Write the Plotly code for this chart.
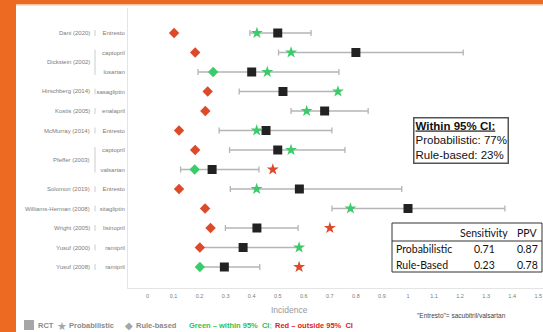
import plotly.graph_objects as go

studies = ["Dani (2020)", "Dickstein (2002)", "Dickstein (2002)", "Hirschberg (2014)", "Kostis (2005)",
           "McMurray (2014)", "Pfeffer (2003)", "Pfeffer (2003)", "Solomon (2019)", "Williams-Herman (2008)",
           "Wright (2005)", "Yusuf (2000)", "Yusuf (2008)"]
drugs = ["Entresto", "captopril", "losartan", "sasagliptin", "enalapril", "Entresto", "captopril",
         "valsartan", "Entresto", "sitagliptin", "lisinopril", "ramipril", "ramipril"]
rct = [0.50, 0.80, 0.40, 0.52, 0.68, 0.455, 0.50, 0.248, 0.583, 1.00, 0.42, 0.367, 0.295]
ci_low = [0.393, 0.503, 0.194, 0.352, 0.551, 0.275, 0.315, 0.127, 0.318, 0.708, 0.299, 0.205, 0.195]
ci_high = [0.628, 1.212, 0.735, 0.731, 0.847, 0.708, 0.758, 0.428, 0.976, 1.372, 0.578, 0.582, 0.431]
prob = [0.42, 0.551, 0.46, 0.731, 0.611, 0.419, 0.551, 0.481, 0.419, 0.779, 0.70, 0.582, 0.582]
rule = [0.102, 0.183, 0.252, 0.231, 0.222, 0.121, 0.183, 0.181, 0.121, 0.221, 0.242, 0.201, 0.201]
x_ticks = [0, 0.1, 0.2, 0.3, 0.4, 0.5, 0.6, 0.7, 0.8, 0.9, 1, 1.1, 1.2, 1.3, 1.4, 1.5]

GREEN = "#3ccb6b"
RED = "#dc4a2a"
GRAY_TXT = "#7c7c7c"
W, H = 543, 332

rows = list(range(len(drugs)))


def inside(v, lo, hi):
    return lo <= v <= hi


prob_col = [GREEN if inside(p, lo, hi) else RED for p, lo, hi in zip(prob, ci_low, ci_high)]
rule_col = [GREEN if inside(r, lo, hi) else RED for r, lo, hi in zip(rule, ci_low, ci_high)]

fig = go.Figure()
fig.add_trace(go.Scatter(
    x=rct, y=rows, mode="markers",
    marker=dict(symbol="square", size=9, color="#222222"),
    error_x=dict(type="data", symmetric=False,
                 array=[h - r for h, r in zip(ci_high, rct)],
                 arrayminus=[r - l for r, l in zip(rct, ci_low)],
                 color="#b5b5b5", thickness=1.3, width=3),
    showlegend=False))
fig.add_trace(go.Scatter(
    x=prob, y=rows, mode="markers",
    marker=dict(symbol="star", size=9, color=prob_col), showlegend=False))
fig.add_trace(go.Scatter(
    x=rule, y=rows, mode="markers",
    marker=dict(symbol="diamond", size=8, color=rule_col), showlegend=False))

# axes geometry (pixels)
px_left, px_right = 128, 543
px_top, px_bot = 8, 288
x0_px, x1_px = 147.5, 408.0
row0_px, row_step = 33.0, 19.5
scale = x1_px - x0_px
xr = [(px_left - x0_px) / scale, (px_right - x0_px) / scale]
yr = [(px_bot - row0_px) / row_step, (px_top - row0_px) / row_step]

fig.update_xaxes(domain=[px_left / W, px_right / W], range=xr, tickvals=x_ticks,
                 ticktext=[("%g" % t) for t in x_ticks], showgrid=False, zeroline=False,
                 showline=True, linecolor="#e4e4e4", linewidth=1, ticks="",
                 tickfont=dict(size=5.5, color=GRAY_TXT, family="Liberation Sans"),
                 ticklabelstandoff=2)
fig.update_yaxes(domain=[1 - px_bot / H, 1 - px_top / H], range=yr, tickvals=rows, ticktext=drugs,
                 showgrid=False, zeroline=False, showline=True, linecolor="#e4e4e4", linewidth=1,
                 ticks="", tickfont=dict(size=6, color=GRAY_TXT, family="Liberation Sans"),
                 ticklabelstandoff=1)

annotations = []
shapes = []
# study labels with group dividers
i = 0
while i < len(studies):
    j = i
    while j + 1 < len(studies) and studies[j + 1] == studies[i]:
        j += 1
    ymid = (i + j) / 2
    annotations.append(dict(x=92 / W, y=ymid, xref="paper", yref="y", text=studies[i],
                            showarrow=False, xanchor="right", yanchor="middle",
                            font=dict(size=6, color=GRAY_TXT, family="Liberation Sans")))
    shapes.append(dict(type="line", xref="paper", yref="y", x0=95 / W, x1=95 / W,
                       y0=i - 0.15, y1=j + 0.15, line=dict(color="#cccccc", width=1)))
    i = j + 1

# orange frame
shapes.append(dict(type="rect", xref="paper", yref="paper", x0=0, x1=16 / W, y0=0, y1=1,
                   fillcolor="#ec6a22", line=dict(width=0), layer="below"))
shapes.append(dict(type="rect", xref="paper", yref="paper", x0=0, x1=1, y0=1 - 4 / H, y1=1,
                   fillcolor="#ec6a22", line=dict(width=0), layer="below"))
shapes.append(dict(type="rect", xref="paper", yref="paper", x0=16 / W, x1=1, y0=1 - 5.5 / H, y1=1 - 4 / H,
                   fillcolor="#f6c3a3", line=dict(width=0), layer="below"))

# axis title
annotations.append(dict(x=289 / W, y=1 - 310 / H, xref="paper", yref="paper", text="Incidence",
                        showarrow=False, xanchor="center", yanchor="middle",
                        font=dict(size=8.5, color="#999999", family="Liberation Sans")))

# within CI box
annotations.append(dict(x=461 / W, y=1 - 141 / H, xref="paper", yref="paper",
                        text="<b><u>Within 95% CI:</u></b><br>Probabilistic: 77%<br>Rule-based: 23%",
                        showarrow=False, align="left", xanchor="center", yanchor="middle",
                        bordercolor="#555555", borderwidth=1.5, borderpad=1, bgcolor="white",
                        font=dict(size=11.5, color="#111111", family="Liberation Sans")))

# sensitivity table
tx0, tx1, ty0, ty1, tymid = 392, 542, 223, 272, 241
shapes.append(dict(type="rect", xref="paper", yref="paper", x0=tx0 / W, x1=tx1 / W,
                   y0=1 - ty1 / H, y1=1 - ty0 / H, line=dict(color="#333333", width=1), fillcolor="white"))
shapes.append(dict(type="line", xref="paper", yref="paper", x0=tx0 / W, x1=tx1 / W,
                   y0=1 - tymid / H, y1=1 - tymid / H, line=dict(color="#333333", width=1)))
tab_rows = [("", "Sensitivity", "PPV", 232.5), ("Probabilistic", "0.71", "0.87", 249),
            ("Rule-Based", "0.23", "0.78", 264.5)]
tfont = dict(size=10.5, color="#111111", family="Lato")
for name, s, p, yy in tab_rows:
    if name:
        annotations.append(dict(x=394 / W, y=1 - yy / H, xref="paper", yref="paper", text=name,
                                showarrow=False, xanchor="left", yanchor="middle", font=tfont))
    annotations.append(dict(x=484 / W, y=1 - yy / H, xref="paper", yref="paper", text=s,
                            showarrow=False, xanchor="center", yanchor="middle", font=tfont))
    annotations.append(dict(x=527 / W, y=1 - yy / H, xref="paper", yref="paper", text=p,
                            showarrow=False, xanchor="center", yanchor="middle", font=tfont))

# footnote
annotations.append(dict(x=461 / W, y=1 - 315 / H, xref="paper", yref="paper",
                        text='"Entresto"= sacubitril/valsartan', showarrow=False,
                        xanchor="center", yanchor="middle",
                        font=dict(size=6.5, color="#444444", family="Liberation Sans")))

# bottom legend
ly = 1 - 325 / H
shapes.append(dict(type="rect", xref="paper", yref="paper", x0=24 / W, x1=34 / W,
                   y0=ly - 5 / H, y1=ly + 5 / H, fillcolor="#a6a6a6", line=dict(width=0)))
lfont = dict(size=7.5, color="#8a8a8a", family="Liberation Sans")
annotations += [
    dict(x=36 / W, y=ly, text="<b>RCT</b>", xanchor="left", font=lfont),
    dict(x=55 / W, y=ly, text="★", xanchor="left", font=dict(size=11, color="#a6a6a6")),
    dict(x=67 / W, y=ly, text="<b>Probabilistic</b>", xanchor="left", font=lfont),
    dict(x=123 / W, y=ly, text="◆", xanchor="left", font=dict(size=10, color="#a6a6a6")),
    dict(x=134 / W, y=ly, text="<b>Rule-based</b>", xanchor="left", font=lfont),
    dict(x=187 / W, y=ly, text="<b>Green – within 95%  CI</b>;", xanchor="left",
         font=dict(size=7.5, color="#2fbf55", family="Liberation Sans")),
    dict(x=273 / W, y=ly, text="<b>Red – outside 95%  CI</b>", xanchor="left",
         font=dict(size=7.5, color="#d9261c", family="Liberation Sans")),
]
for a in annotations[-7:]:
    a.update(xref="paper", yref="paper", showarrow=False, yanchor="middle")

fig.update_layout(width=W, height=H, margin=dict(l=0, r=0, t=0, b=0),
                  paper_bgcolor="white", plot_bgcolor="white", hovermode=False,
                  annotations=annotations, shapes=shapes, showlegend=False)
fig.write_html("out.html", config={"displayModeBar": False},
               post_script="document.body.style.margin='0';document.body.style.overflow='hidden';")
